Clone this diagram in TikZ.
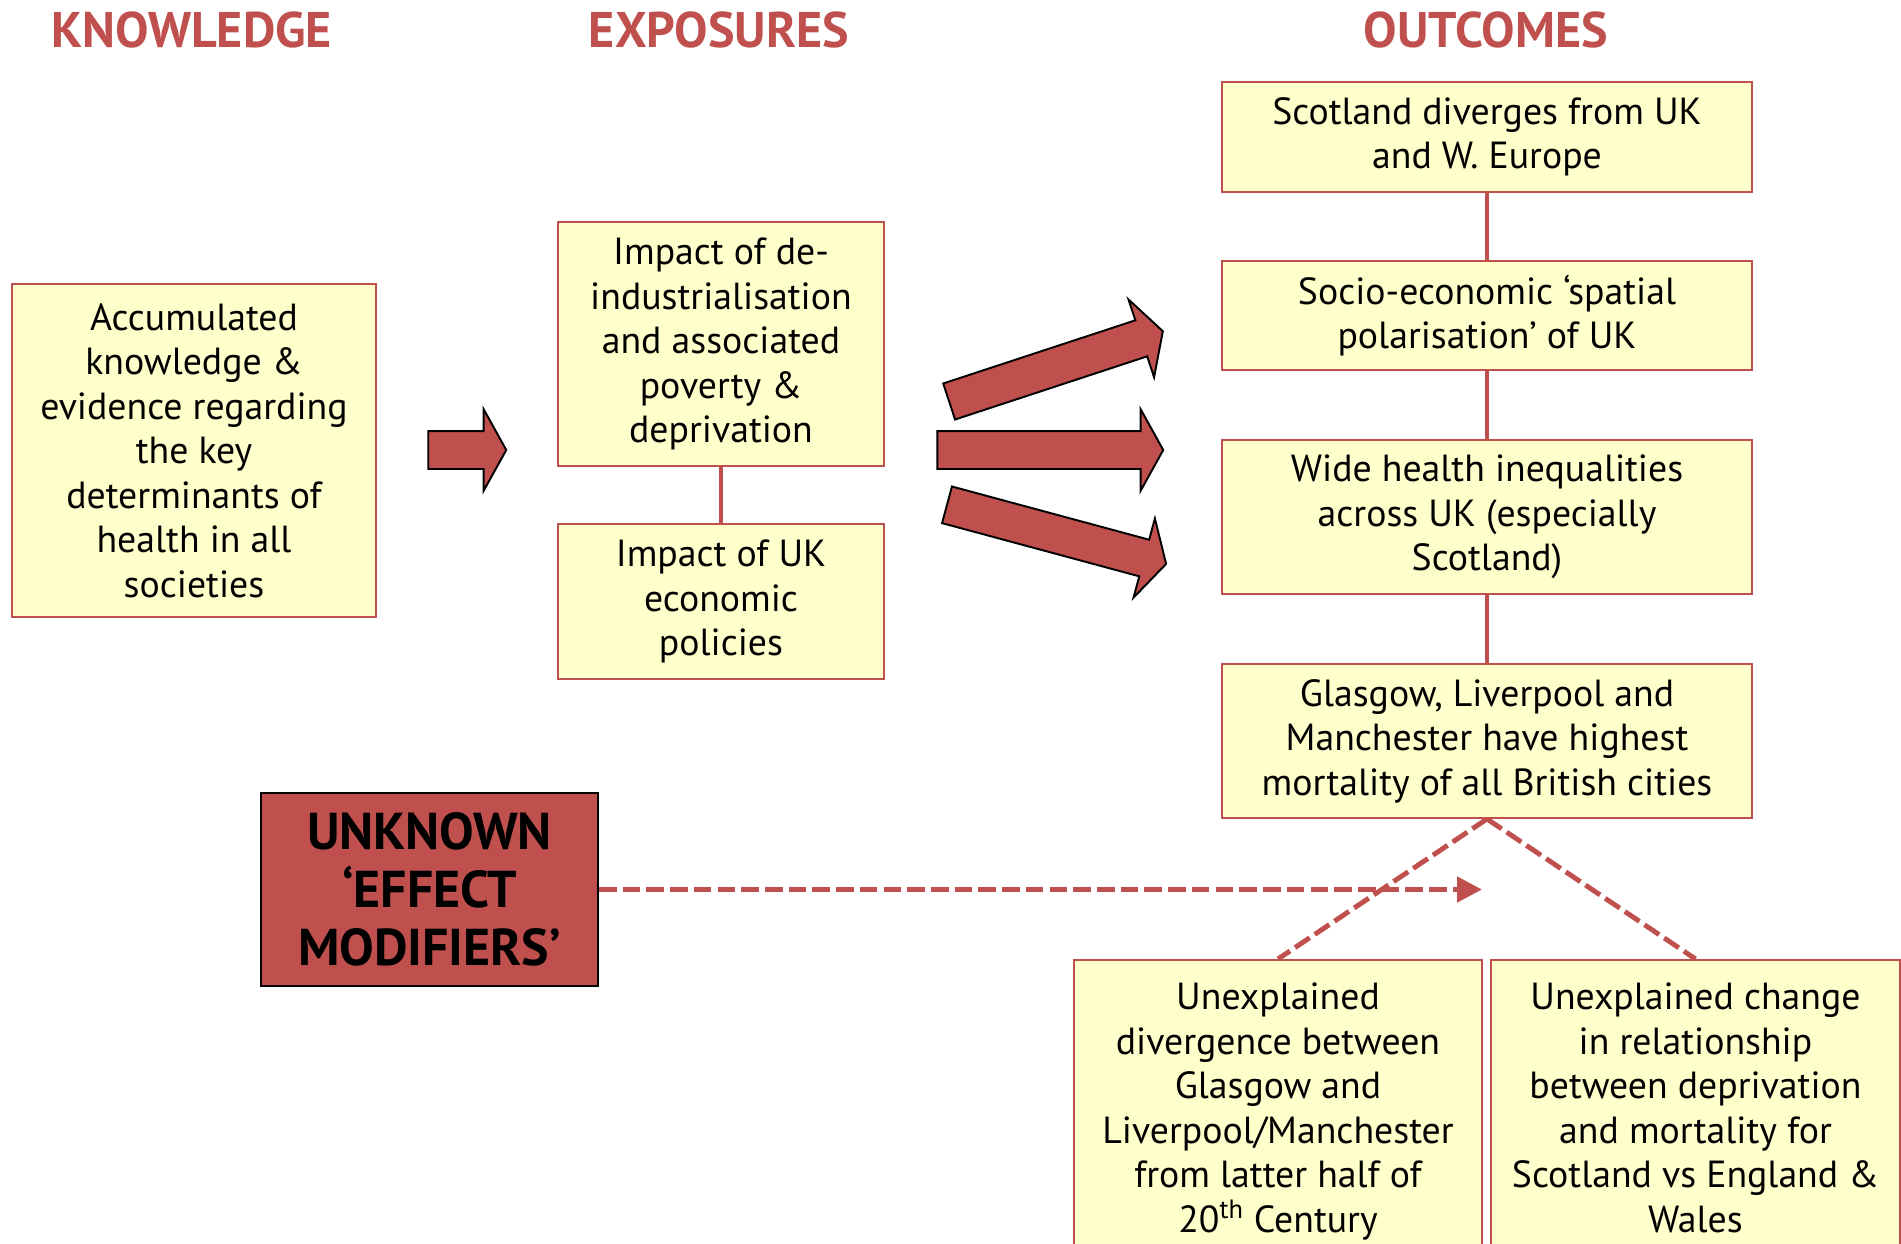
\documentclass[tikz,border=0pt]{standalone}
\usepackage{fontspec}
\setmainfont{PT Sans}
\usetikzlibrary{shapes.arrows,arrows.meta}
\definecolor{darkred}{RGB}{192,80,77}
\definecolor{paleyellow}{RGB}{255,255,204}

\tikzset{
	box/.style={draw=darkred, line width=1.1pt, fill=paleyellow, align=center, inner sep=0pt, minimum width=10.62cm, font=\fontsize{21.5}{25.3}\selectfont},
	heading/.style={text=darkred, font=\fontsize{28.5}{34}\selectfont\bfseries},
	bigarrow/.style={single arrow, draw=black, line width=1.1pt, fill=darkred, inner xsep=0pt, inner ysep=0.36cm, minimum width=1.6cm, single arrow head extend=0.44cm, single arrow tip angle=122},
	link/.style={darkred, line width=2pt},
	dashlink/.style={darkred, line width=2.8pt, dash pattern=on 10pt off 3.5pt}
}

\begin{document}
\begin{tikzpicture}[x=0.02cm, y=-0.02cm]
	
	\useasboundingbox (0,0) rectangle (1901,1244);
	\clip (0,0) rectangle (1901,1244);
	
	% column headings
	\node[heading] (hknow) at (192,30) {KNOWLEDGE};
	\node[heading] (hexpo) at (719,30) {EXPOSURES};
	\node[heading] (hout) at (1486,30) {OUTCOMES};
	
	% knowledge and exposures
	\node[box, minimum width=7.28cm, minimum height=6.66cm] (know) at (194,450.5)
		{Accumulated\\knowledge \&\\evidence regarding\\the key\\determinants of\\health in all\\societies};
	\node[box, minimum width=6.52cm, minimum height=4.88cm] (expo1) at (721,344)
		{Impact of de-\\industrialisation\\and associated\\poverty \&\\deprivation};
	\node[box, minimum width=6.52cm, minimum height=3.1cm] (expo2) at (721,601.5)
		{Impact of UK\\economic\\policies};
	
	% outcomes
	\node[box, minimum height=2.2cm] (out1) at (1487,137) {Scotland diverges from UK\\and W. Europe};
	\node[box, minimum height=2.18cm] (out2) at (1487,315.5) {Socio-economic ‘spatial\\polarisation’ of UK};
	\node[box, minimum height=3.08cm] (out3) at (1487,517) {Wide health inequalities\\across UK (especially\\Scotland)};
	\node[box, minimum height=3.08cm] (out4) at (1487,741) {Glasgow, Liverpool and\\Manchester have highest\\mortality of all British cities};
	
	\node[box, anchor=north, minimum width=8.16cm, minimum height=6.9cm,
		label={[anchor=north, label distance=-0.36cm, align=center, font=\fontsize{21.5}{25.3}\selectfont]north:Unexplained\\divergence between\\Glasgow and\\Liverpool/Manchester\\from latter half of\\20\textsuperscript{th} Century}] (unex1) at (1278,959) {};
	\node[box, anchor=north, minimum width=8.18cm, minimum height=6.9cm,
		label={[anchor=north, label distance=-0.36cm, align=center, font=\fontsize{21.5}{25.3}\selectfont]north:Unexplained change\\in relationship\\between deprivation\\and mortality for\\Scotland vs England \&\\Wales}] (unex2) at (1695.5,959) {};
	
	% effect modifiers
	\node[draw=black, line width=1.1pt, fill=darkred, align=center, minimum width=6.74cm, minimum height=3.86cm,
		font=\fontsize{29.5}{33}\selectfont\bfseries] (unknown) at (429.5,889.5) {UNKNOWN\\‘EFFECT\\MODIFIERS’};
	
	% block arrows
	\node[bigarrow, minimum height=1.56cm] (a0) at (462,450) {};
	\node[bigarrow, minimum height=4.5cm, rotate=18.2] (a1) at (1051,368) {};
	\node[bigarrow, minimum height=4.52cm] (a2) at (1045,450) {};
	\node[bigarrow, minimum height=4.54cm, rotate=-15.1] (a3) at (1051.5,533) {};
	
	% connectors
	\draw[link] (expo1) -- (expo2);
	\foreach \a/\b in {out1/out2, out2/out3, out3/out4}
	{
		\draw[link] (\a) -- (\b);
	}
	\draw[dashlink] (out4.south) -- (unex1.north);
	\draw[dashlink] (out4.south) -- (unex2.north);
	\coordinate (modend) at (1482,889.5);
	\draw[dashlink, -{Triangle[length=0.5cm, width=0.5cm]}] (unknown.east) -- (modend);

\end{tikzpicture}
\end{document}
